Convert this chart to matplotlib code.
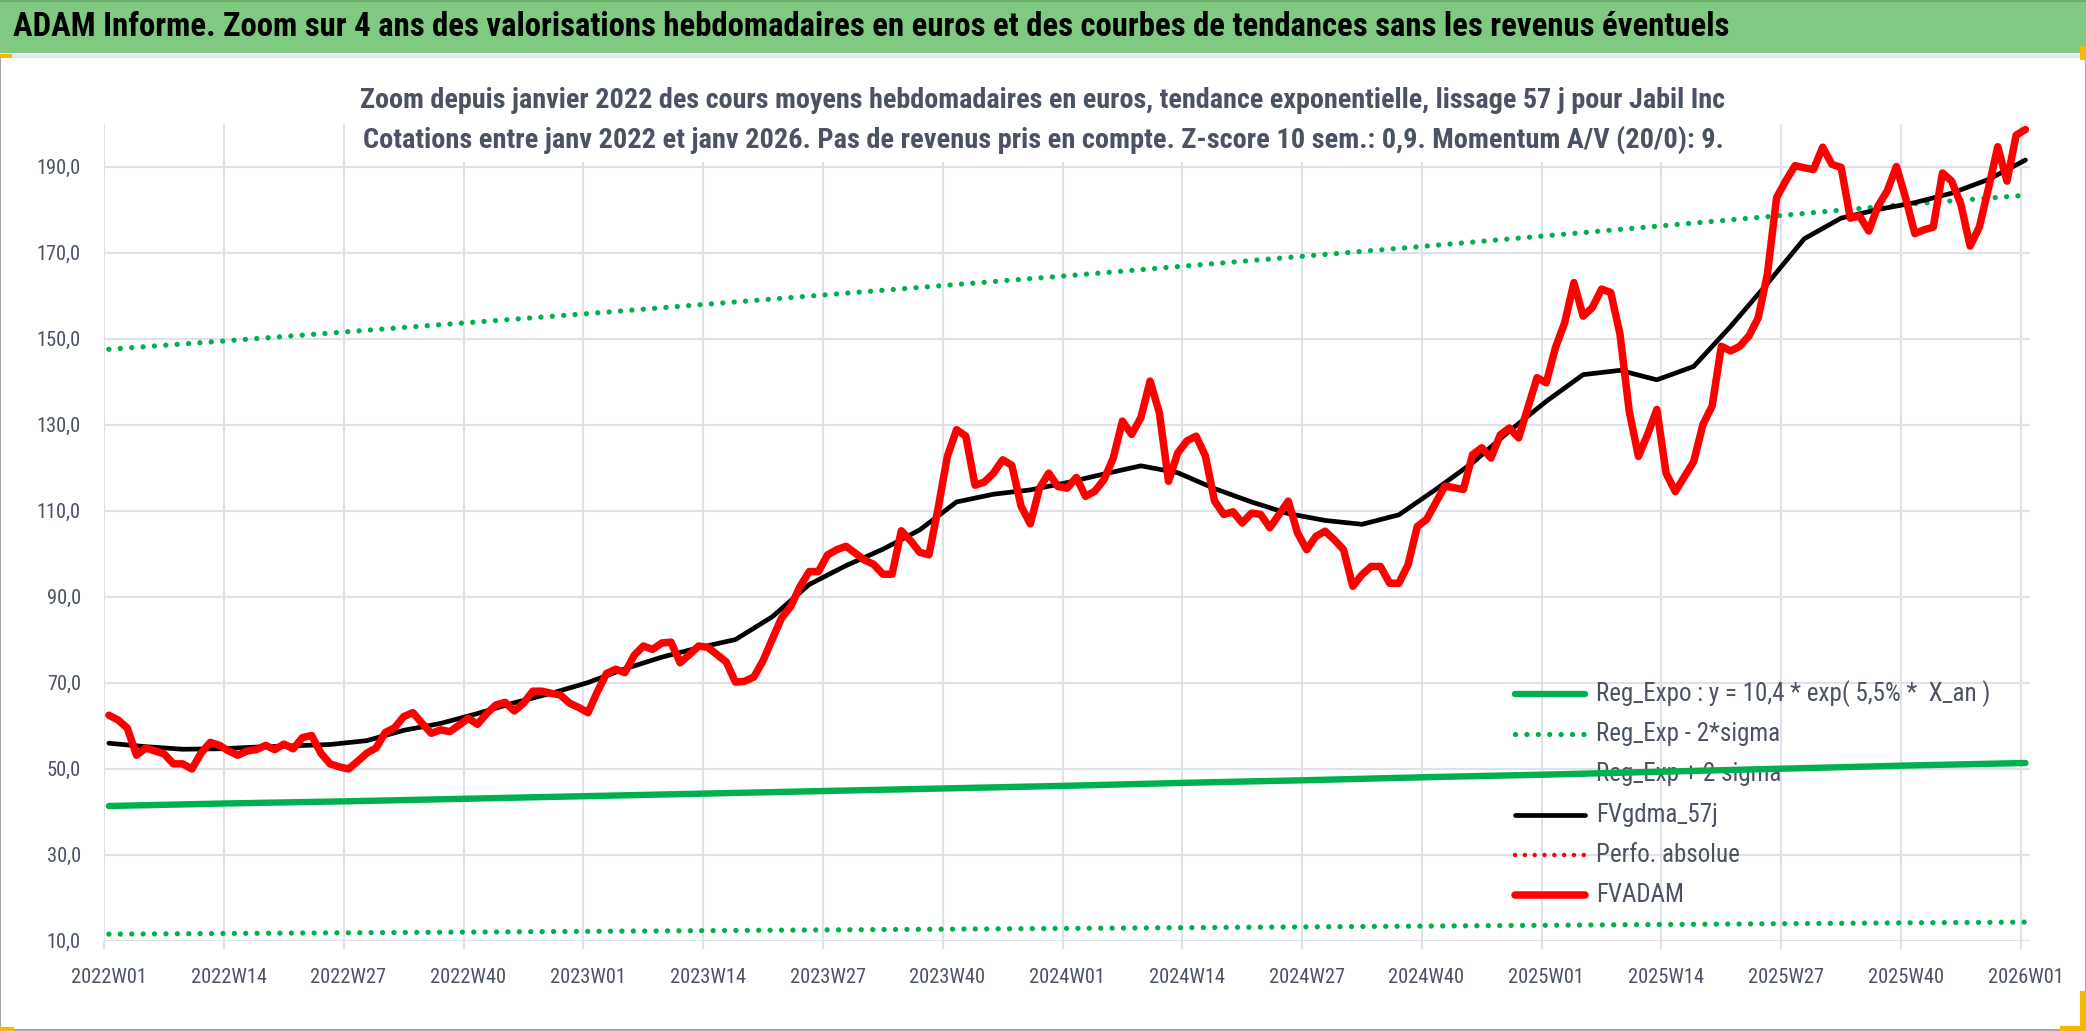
import numpy as np
import matplotlib
matplotlib.use("Agg")
import matplotlib.pyplot as plt
from matplotlib.patches import Rectangle
from matplotlib.lines import Line2D
from matplotlib.ticker import FixedLocator, NullFormatter
import matplotlib.font_manager as fm

# ---------------- data ----------------
week_labels = ["2022W01", "2022W14", "2022W27", "2022W40", "2023W01", "2023W14",
               "2023W27", "2023W40", "2024W01", "2024W14", "2024W27", "2024W40",
               "2025W01", "2025W14", "2025W27", "2025W40", "2026W01"]
label_index = list(range(0, 209, 13))

fvadam = [62.4, 61.3, 59.4, 53.1, 54.8, 54.1, 53.4, 51.1, 51.1, 49.9,
          53.6, 56.1, 55.4, 54.1, 53.1, 54.1, 54.4, 55.4, 54.4, 55.7,
          54.6, 57.2, 57.7, 53.6, 51.1, 50.4, 49.9, 51.7, 53.6, 54.8,
          58.4, 59.5, 62.1, 63.0, 60.5, 58.2, 59.0, 58.6, 60.1, 61.7,
          60.3, 62.8, 64.8, 65.4, 63.4, 65.2, 68.0, 68.0, 67.5, 67.1,
          65.2, 64.2, 63.0, 67.8, 72.1, 73.1, 72.3, 76.3, 78.5, 77.7,
          79.2, 79.4, 74.6, 76.5, 78.5, 78.2, 76.5, 74.8, 70.1, 70.3,
          71.3, 75.1, 80.1, 85.0, 87.7, 92.3, 95.8, 95.8, 99.7, 100.9,
          101.7, 100.1, 98.5, 97.5, 95.2, 95.2, 105.3, 103.0, 100.3, 99.7,
          110.6, 122.6, 128.8, 127.3, 115.9, 116.6, 118.7, 121.8, 120.5, 111.0,
          106.9, 115.2, 118.7, 115.6, 115.2, 117.7, 113.3, 114.5, 117.2, 122.2,
          130.8, 127.7, 131.6, 140.1, 132.8, 116.8, 123.4, 126.2, 127.3, 122.7,
          112.2, 109.1, 109.7, 107.1, 109.4, 109.1, 106.0, 109.1, 112.2, 104.8,
          100.9, 104.0, 105.2, 103.2, 100.9, 92.4, 95.1, 97.0, 97.0, 93.1,
          93.1, 97.4, 106.3, 107.9, 111.8, 115.7, 115.3, 114.9, 123.0, 124.6,
          122.2, 127.6, 129.2, 126.9, 133.9, 140.9, 139.7, 147.9, 153.7, 163.0,
          155.2, 157.2, 161.5, 160.7, 151.0, 133.1, 122.6, 127.7, 133.5, 118.7,
          114.4, 117.9, 121.4, 130.0, 134.3, 148.2, 147.1, 148.2, 150.6, 154.8,
          165.0, 182.8, 186.7, 190.2, 189.7, 189.3, 194.5, 190.5, 189.8, 178.0,
          178.5, 175.0, 180.8, 184.3, 190.0, 182.7, 174.4, 175.3, 175.9, 188.5,
          186.6, 181.2, 171.5, 175.9, 185.0, 194.6, 186.6, 197.3, 198.6]

gdma_index = list(range(0, 209, 4))
fvgdma_57j = [55.9, 55.1, 54.5, 54.6, 55.0, 55.3, 55.6, 56.5, 58.9, 60.5,
              62.8, 65.3, 67.5, 70.0, 73.2, 75.9, 78.1, 80.0, 85.3, 92.8,
              97.2, 101.0, 105.5, 112.0, 113.8, 114.8, 116.5, 118.5, 120.4, 118.8,
              115.1, 112.0, 109.3, 107.7, 106.8, 109.0, 114.9, 121.1, 128.5, 135.4,
              141.6, 142.6, 140.4, 143.5, 152.8, 162.8, 173.2, 178.0, 180.0, 181.6,
              183.8, 187.0, 191.5]

trend_index = list(range(0, 209, 13))
reg_expo = [41.3, 41.9, 42.4, 43.0, 43.6, 44.2, 44.8, 45.4, 46.0, 46.7,
            47.3, 48.0, 48.6, 49.3, 50.0, 50.7, 51.3]
reg_plus_2sigma = [147.5, 149.5, 151.6, 153.7, 155.8, 158.0, 160.2, 162.4, 164.6,
                   166.9, 169.2, 171.5, 173.9, 176.3, 178.7, 181.2, 183.3]
reg_minus_2sigma = [11.5, 11.66, 11.82, 11.98, 12.15, 12.32, 12.49, 12.66, 12.84,
                    13.01, 13.19, 13.38, 13.56, 13.75, 13.94, 14.13, 14.3]
y_ticks = [10, 30, 50, 70, 90, 110, 130, 150, 170, 190]

legend_labels = ["Reg_Expo : y = 10,4 * exp( 5,5% *  X_an )", "Reg_Exp - 2*sigma",
                 "Reg_Exp + 2 sigma", "FVgdma_57j", "Perfo. absolue", "FVADAM"]

title = ("ADAM Informe. Zoom sur 4 ans des valorisations hebdomadaires en euros "
         "et des courbes de tendances sans les revenus éventuels")
sub1 = ("Zoom depuis janvier 2022 des cours moyens hebdomadaires en euros, "
        "tendance exponentielle, lissage 57 j pour Jabil Inc")
sub2 = ("Cotations entre janv 2022 et janv 2026. Pas de revenus pris en compte. "
        "Z-score 10 sem.: 0,9. Momentum A/V (20/0): 9.")

# ---------------- fonts ----------------
names = {f.name for f in fm.fontManager.ttflist}
FONT = next((n for n in ["Liberation Sans Narrow", "Roboto Condensed",
                         "Open Sans Condensed", "Noto Sans", "Liberation Sans"]
             if n in names), "DejaVu Sans")
plt.rcParams["font.family"] = [FONT, "DejaVu Sans"]

GREEN = "#00B050"
RED = "#FF0000"
TXT = "#4A5263"
GRID = "#DDE1E8"

W, H = 2086, 1031
fig = plt.figure(figsize=(W / 100, H / 100), dpi=100)
fig.patch.set_facecolor("white")


def fx(px):
    return px / W


def fy(py):
    return 1 - py / H


renderer = fig.canvas.get_renderer()


def fit_width(t, target):
    for _ in range(3):
        w = t.get_window_extent(renderer).width
        t.set_fontsize(t.get_fontsize() * target / w)


# banner and frame
fig.add_artist(Rectangle((0, fy(53)), 1, 53 / H, transform=fig.transFigure,
                         facecolor="#80C980", edgecolor="none", zorder=0.1))
fig.add_artist(Line2D([0, 1], [fy(1), fy(1)], transform=fig.transFigure,
                      color="#6AAE6A", lw=1.5, zorder=0.2))
fig.add_artist(Rectangle((0, fy(1030)), 1, fy(57) - fy(1030), transform=fig.transFigure,
                         facecolor="none", edgecolor="#A6A6A6", lw=1.5, zorder=0.2))
fig.add_artist(Line2D([0, 1], [fy(56), fy(56)], transform=fig.transFigure,
                      color="#E3E6EA", lw=3, zorder=0.2))
for (x0, y0, w, h) in [(0, 1031, 14, 4), (0, 58, 12, 4), (2080, 60, 6, 14),
                       (2080, 1031, 6, 40), (2060, 1031, 26, 5)]:
    fig.add_artist(Rectangle((fx(x0), fy(y0)), w / W, h / H, transform=fig.transFigure,
                             facecolor="#F5B800", edgecolor="none", zorder=0.3))

t = fig.text(fx(13), fy(27), title, ha="left", va="center", fontsize=24,
             fontweight="bold", color="black", zorder=3)
fit_width(t, 1717)

# ---------------- axes ----------------
ax = fig.add_axes([fx(104.3), fy(940.6), fx(2030) - fx(104.3), fy(123.5) - fy(940.6)])
ax.set_xlim(0, 209)
ax.set_ylim(10, 200)
for s in ax.spines.values():
    s.set_visible(False)

ax.yaxis.set_major_locator(FixedLocator(y_ticks))
ax.set_yticklabels([f"{v:.1f}".replace(".", ",") for v in y_ticks])
ax.xaxis.set_major_locator(FixedLocator(label_index))
ax.xaxis.set_major_formatter(NullFormatter())
ax.xaxis.set_minor_locator(FixedLocator([i + 0.5 for i in label_index]))
ax.set_xticklabels(week_labels, minor=True)
ax.tick_params(axis="x", which="major", length=6, width=1.5, color=GRID)
ax.tick_params(axis="x", which="minor", length=0, pad=20, labelsize=15.5, labelcolor=TXT)
ax.tick_params(axis="y", length=0, pad=17, labelsize=15.5, labelcolor=TXT)
ax.grid(True, which="major", color=GRID, lw=1.5)
ax.set_axisbelow(True)

trend_x = np.array(trend_index) + 0.5
ax.plot(trend_x, reg_expo, color=GREEN, lw=4.6, solid_capstyle="round", zorder=4)
dots = (0, (0.01, 2.15))
ax.plot(trend_x, reg_minus_2sigma, color=GREEN, lw=3.8, linestyle=dots,
        dash_capstyle="round", zorder=3)
ax.plot(trend_x, reg_plus_2sigma, color=GREEN, lw=3.8, linestyle=dots,
        dash_capstyle="round", zorder=3)
ax.plot(np.array(gdma_index) + 0.5, fvgdma_57j, color="black", lw=3.4,
        solid_joinstyle="round", solid_capstyle="round", zorder=5)
ax.plot(np.arange(len(fvadam)) + 0.5, fvadam, color=RED, lw=5.4,
        solid_joinstyle="round", solid_capstyle="round", zorder=6)

# ---------------- legend (drawn below the series, transparent) ----------------
styles = [dict(color=GREEN, lw=4.6, solid_capstyle="round"),
          dict(color=GREEN, lw=3.8, linestyle=dots, dash_capstyle="round"),
          dict(color=GREEN, lw=3.8, linestyle=dots, dash_capstyle="round"),
          dict(color="black", lw=3.4, solid_capstyle="round"),
          dict(color=RED, lw=3.2, linestyle=(0, (0.01, 2.2)), dash_capstyle="round"),
          dict(color=RED, lw=5.4, solid_capstyle="round")]
leg_texts = []
for k, (lab, st) in enumerate(zip(legend_labels, styles)):
    yy = fy(694 + 40.2 * k)
    ln = Line2D([fx(1515), fx(1585)], [yy, yy], transform=fig.transFigure, **st)
    ln.set_clip_on(False)
    ln.set_zorder(1.5)
    ax.add_line(ln)
    tx = ax.text(fx(1596), yy, lab, transform=fig.transFigure, ha="left", va="center",
                 fontsize=17, color=TXT, zorder=1.5, clip_on=False)
    leg_texts.append(tx)
fit_width(leg_texts[0], 395)
for tx in leg_texts[1:]:
    tx.set_fontsize(leg_texts[0].get_fontsize())

# ---------------- subtitle block ----------------
fig.add_artist(Rectangle((fx(357), fy(162)), (1730 - 357) / W, (162 - 123) / H,
                         transform=fig.transFigure, facecolor="white",
                         edgecolor="none", zorder=1))
s1 = fig.text(fx(1043), fy(100), sub1, ha="center", va="center", fontsize=19,
              fontweight="semibold", color=TXT, zorder=3)
fit_width(s1, 1362)
s2 = fig.text(fx(1043), fy(140), sub2, ha="center", va="center", fontsize=19,
              fontweight="semibold", color=TXT, zorder=3)
fit_width(s2, 1360)

# tick label size fitted to the reference width of "2022W01"
probe = fig.text(0, 0, "2022W01", fontsize=15.5)
w = probe.get_window_extent(renderer).width
fs_tick = 15.5 * 76 / w
probe.remove()
ax.tick_params(axis="x", which="minor", labelsize=fs_tick)
ax.tick_params(axis="y", labelsize=fs_tick)

fig.savefig("out.png", dpi=100, facecolor="white")
